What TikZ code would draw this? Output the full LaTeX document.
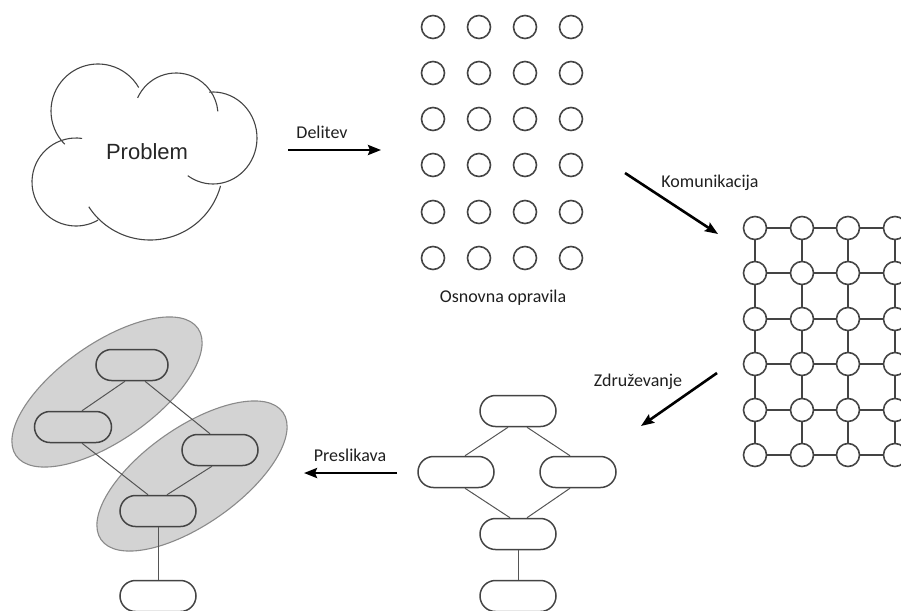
\documentclass[tikz,border=0pt]{standalone}
\usepackage{fontspec}
\setmainfont{Carlito}
\newfontfamily\probfont{Liberation Sans}
\usetikzlibrary{shapes.misc,arrows.meta}
\definecolor{ln}{HTML}{444444}
\definecolor{edgegray}{HTML}{555555}
\definecolor{shade}{HTML}{D3D3D3}
\definecolor{rim}{HTML}{8A8A8A}
\begin{document}
\begin{tikzpicture}[x=1pt,y=-1pt,
  dot/.style={circle,draw=ln,line width=1.6pt,fill=white,minimum size=23pt,inner sep=0pt},
  task/.style={rounded rectangle,draw=ln,line width=1.5pt,minimum width=76pt,minimum height=31pt,inner sep=0pt},
  link/.style={draw=edgegray,line width=1pt},
  meshline/.style={draw=ln,line width=1.4pt},
  cloudline/.style={draw=ln,line width=1.1pt},
  group/.style={fill=shade,draw=rim,line width=1.1pt},
  bigarrow/.style={-{Stealth[length=13pt,width=10pt,inset=2pt]},line width=2.6pt,black},
  lbl/.style={font=\fontsize{18}{20}\selectfont,text=black!88,inner sep=0pt}
]
\useasboundingbox (0,0) rectangle (901,610);
\clip (0,0) rectangle (901,610);

% cloud
\draw[cloudline] (98,111) ++(225:47pt) arc[start angle=225,end angle=30,radius=47pt];
\draw[cloudline] (176,115) ++(156:42pt) arc[start angle=156,end angle=5,radius=42pt];
\draw[cloudline] (213,138) ++(95:44pt and 46pt) arc[start angle=95,end angle=-125,x radius=44pt,y radius=46pt];
\draw[cloudline] (150,167) ++(213:73pt) arc[start angle=213,end angle=345,radius=73pt];
\draw[cloudline] (76,182) ++(82:44pt) arc[start angle=82,end angle=300,radius=44pt];
\node[font=\probfont\fontsize{22}{24}\selectfont,text=black!85] (problem) at (147,152) {Problem};

% Delitev
\coordinate (d1) at (288,150);
\coordinate (d2) at (381,150);
\draw[bigarrow] (d1) -- (d2);
\node[lbl] (ldelitev) at (322,132) {Delitev};

% basic tasks
\foreach \r [count=\i] in {27,73,119,165,212,258}
  \foreach \c [count=\j] in {433,479,525,571}
    \node[dot] (t-\i-\j) at (\c,\r) {};
\node[lbl] (losnovna) at (503,298) {Osnovna opravila};

% Komunikacija
\coordinate (k1) at (625,173);
\coordinate (k2) at (718,234);
\draw[bigarrow] (k1) -- (k2);
\node[lbl] (lkom) at (710,183) {Komunikacija};

% mesh
\foreach \r [count=\i] in {228,273,319,364,410,455}
  \foreach \c [count=\j] in {755,802,848,895}
    \node[dot] (m-\i-\j) at (\c,\r) {};
\foreach \i in {1,...,6}
  \foreach \j/\k in {1/2,2/3,3/4}
    \draw[meshline] (m-\i-\j) -- (m-\i-\k);
\foreach \i/\k in {1/2,2/3,3/4,4/5,5/6}
  \foreach \j in {1,...,4}
    \draw[meshline] (m-\i-\j) -- (m-\k-\j);

% Zdruzevanje
\coordinate (z1) at (717,373);
\coordinate (z2) at (641,426);
\draw[bigarrow] (z1) -- (z2);
\node[lbl] (lzdr) at (638,382) {Združevanje};

% agglomerated graph
\node[task,fill=white] (a-top) at (518,411) {};
\node[task,fill=white] (a-left) at (456,472) {};
\node[task,fill=white] (a-right) at (578,472) {};
\node[task,fill=white] (a-mid) at (518,534) {};
\node[task,fill=white] (a-bot) at (518,596) {};
\draw[link] ([xshift=-10pt]a-top.south) -- ([xshift=9pt]a-left.north);
\draw[link] ([xshift=9pt]a-top.south) -- ([xshift=-8pt]a-right.north);
\draw[link] ([xshift=9pt]a-left.south) -- ([xshift=-8pt]a-mid.north);
\draw[link] ([xshift=-8pt]a-right.south) -- ([xshift=9pt]a-mid.north);
\draw[link] (a-mid.south) -- (a-bot.north);

% Preslikava
\coordinate (p1) at (397,473);
\coordinate (p2) at (304,473);
\draw[bigarrow] (p1) -- (p2);
\node[lbl] (lpres) at (350,455) {Preslikava};

% mapped graph
\draw[group,rotate around={35:(107,392)}] (107,392) ellipse[x radius=111pt,y radius=48.5pt];
\draw[group,rotate around={35:(192,476)}] (192,476) ellipse[x radius=111pt,y radius=48.5pt];
\node[task,fill=shade,minimum width=72pt] (b-top) at (132,365) {};
\node[task,fill=shade,minimum width=77pt] (b-left) at (73,427) {};
\node[task,fill=shade] (b-right) at (220,450) {};
\node[task,fill=shade] (b-mid) at (158,511) {};
\node[task,fill=white] (b-bot) at (158,596) {};
\draw[link] ([xshift=-7pt]b-top.south) -- ([xshift=9pt]b-left.north);
\draw[link] ([xshift=13pt]b-top.south) -- ([xshift=-10pt]b-right.north);
\draw[link] ([xshift=9pt]b-left.south) -- ([xshift=-10pt]b-mid.north);
\draw[link] ([xshift=-8pt]b-right.south) -- ([xshift=9pt]b-mid.north);
\draw[link] (b-mid.south) -- (b-bot.north);
\end{tikzpicture}
\end{document}
